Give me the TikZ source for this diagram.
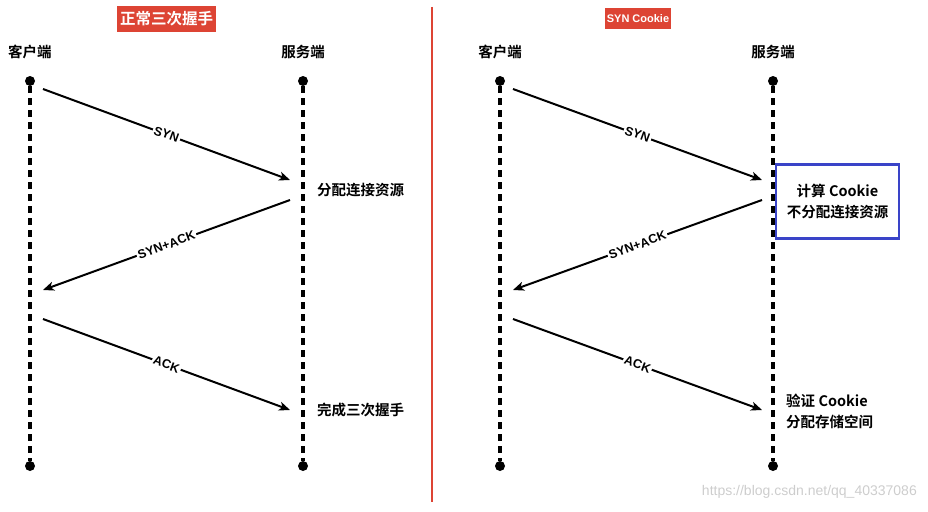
\documentclass[tikz,border=0pt]{standalone}
\usepackage{fontspec}
\setmainfont{Liberation Sans}
\newfontfamily\cjk{Noto Sans CJK SC Bold}
\usetikzlibrary{arrows.meta, positioning}
\definecolor{rosso}{RGB}{221,68,52}
\definecolor{blu}{RGB}{58,68,200}
\definecolor{filigrana}{RGB}{205,205,205}
\tikzset{
  vita/.style={line width=3.2pt, dash pattern=on 7pt off 5pt},
  punto/.style={circle, fill=black, inner sep=0pt, minimum size=10pt},
  msg/.style={line width=2pt, -{Stealth[length=11pt,width=9pt,inset=3pt]}},
  etich/.style={fill=white, inner sep=1.5pt, sloped, font=\bfseries\fontsize{12.5}{12.5}\selectfont},
  titolo/.style={fill=rosso, text=white, inner sep=0pt},
  nome/.style={font=\cjk\fontsize{14.5}{16}\selectfont, inner sep=0pt},
  testo/.style={font=\cjk\fontsize{14.5}{21}\selectfont, inner sep=0pt, align=left}
}
\begin{document}
\begin{tikzpicture}[x=1pt,y=-1pt]
        \useasboundingbox (0,0) rectangle (928,511);
        %disegno titoli
        \node[titolo, minimum width=99, minimum height=26, font=\cjk\fontsize{15.5}{16}\selectfont] (tit1) at (166.5,19) {正常三次握手};
        \node[titolo, minimum width=66, minimum height=21, font=\bfseries\fontsize{11}{11}\selectfont] (tit2) at (638,19) {SYN Cookie};
        %disegno separatore
        \coordinate (sepa) at (432,7);
        \coordinate (sepb) at (432,502);
        \draw[rosso, line width=2.4pt] (sepa) -- (sepb);
        %disegno nomi
        \node[nome] (cli1) at (30,52) {客户端};
        \node[nome] (ser1) at (303,52) {服务端};
        \node[nome] (cli2) at (500,52) {客户端};
        \node[nome] (ser2) at (773,52) {服务端};
        %disegno linee di vita sinistra
        \node[punto] (cli1a) at (30,81) {};
        \node[punto] (cli1b) at (30,466) {};
        \node[punto] (ser1a) at (303,81) {};
        \node[punto] (ser1b) at (303,466) {};
        \draw[vita] (cli1a) -- (cli1b);
        \draw[vita] (ser1a) -- (ser1b);
        %disegno linee di vita destra
        \node[punto] (cli2a) at (500,81) {};
        \node[punto] (cli2b) at (500,466) {};
        \node[punto] (ser2a) at (773,81) {};
        \node[punto] (ser2b) at (773,466) {};
        \draw[vita] (cli2a) -- (cli2b);
        \draw[vita] (ser2a) -- (ser2b);
        %punti dei messaggi
        \coordinate (c1) at (43,89);   \coordinate (s1) at (290,180);
        \coordinate (s2) at (290,200); \coordinate (c2) at (43,290);
        \coordinate (c3) at (43,319);  \coordinate (s3) at (290,410);
        \coordinate (c4) at (513,89);  \coordinate (s4) at (762,180);
        \coordinate (s5) at (762,200); \coordinate (c5) at (513,290);
        \coordinate (c6) at (513,319); \coordinate (s6) at (762,410);
        %disegno messaggi sinistra
        \draw[msg] (c1) -- node[etich] {SYN} (s1);
        \draw[msg] (s2) -- node[etich] {SYN+ACK} (c2);
        \draw[msg] (c3) -- node[etich] {ACK} (s3);
        %disegno messaggi destra
        \draw[msg] (c4) -- node[etich] {SYN} (s4);
        \draw[msg] (s5) -- node[etich] {SYN+ACK} (c5);
        \draw[msg] (c6) -- node[etich] {ACK} (s6);
        %disegno note server
        \node[testo, anchor=west] (nota1) at (317,190) {分配连接资源};
        \node[testo, anchor=west] (nota2) at (317,410) {完成三次握手};
        \node[testo, align=center, draw=blu, line width=2.2pt, minimum width=123, minimum height=74] (nota3) at (837.5,201.5) {计算 Cookie\\不分配连接资源};
        \node[testo, anchor=west] (nota4) at (786,411) {验证 Cookie\\分配存储空间};
        %disegno filigrana
        \node[text=filigrana, font=\fontsize{14}{14}\selectfont, inner sep=0pt, anchor=east] (fil) at (917,492) {https://blog.csdn.net/qq\_40337086};
\end{tikzpicture}
\end{document}
